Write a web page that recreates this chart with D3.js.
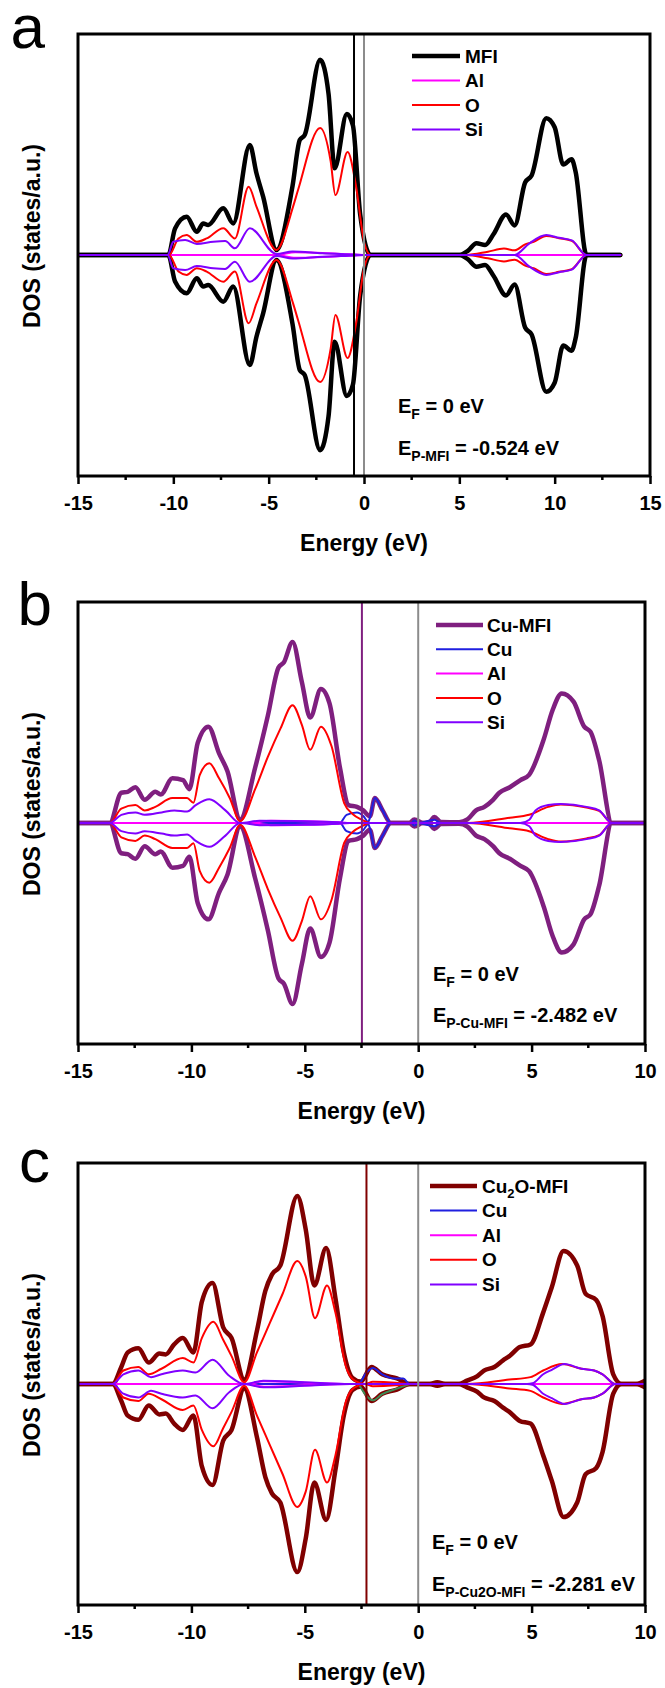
<!DOCTYPE html>
<html>
<head>
<meta charset="utf-8">
<script src="https://cdn.jsdelivr.net/npm/d3@7"></script>
<style>
  body { margin: 0; background: #fff; }
  text { font-family: "Liberation Sans", Arial, sans-serif; }
</style>
</head>
<body>
<div id="chart"></div>
<script>
// ---- data: [energy (eV), DOS (a.u., frame = 100)] ----
// spin-up half; the spin-down half is the same curve drawn below zero

// panel a : MFI
var mfiA = [[-15,0],[-10.26,0],[-9.91,12],[-9.3,17.3],[-8.77,10.5],[-8.43,14.3],[-8.17,13.6],[-7.38,21.1],[-6.86,14.3],
  [-5.99,49.8],[-5.64,37],[-5.29,26.4],[-4.59,2.3],[-3.75,31.2],[-3.37,52],[-3.11,54.3],[-2.3,88.3],[-1.86,73],
  [-1.54,39.2],[-0.9,63.8],[-0.58,58.6],[-0.2,18.3],[0.35,0],[5.01,0],[5.46,2],[5.9,5.3],[6.35,4.5],[6.79,9.4],
  [7.45,18.3],[7.9,13.4],[8.45,32.8],[8.79,36],[9.56,61.9],[10.0,57.8],[10.45,40.9],[10.89,43.3],[11.1,37.6],
  [11.67,0],[13.44,0]];
var alA = [[-15,0],[-4.6,0],[-3.6,1.3],[-2.5,1],[-1.2,0.5],[0,0],[13.44,0]];
var oA = [[-15,0],[-10.23,0],[-9.73,7.5],[-9.3,9],[-8.77,6],[-8.25,7.5],[-7.38,12.1],[-6.77,7.5],[-6.05,30.9],
  [-5.64,21.9],[-4.59,2.3],[-3.72,21.9],[-3.46,29.4],[-2.3,57.5],[-1.75,42.5],[-1.5,27.1],[-0.86,46.6],[-0.42,31.2],
  [0.02,5.3],[0.35,0],[5.35,0],[6.5,1.5],[7.34,2.9],[7.9,2.1],[8.45,4.8],[8.9,6],[9.56,8.6],[10.23,7.6],
  [10.9,6.4],[11.67,0],[13.44,0]];
var siA = [[-15,0],[-10.3,0],[-10.0,6],[-9.38,6.8],[-8.77,5],[-7.9,6],[-7.28,6.3],[-6.77,3],[-5.99,12.1],[-4.59,0.5],
  [-3.75,1.6],[-2.2,0.8],[-0.5,0.2],[0,0],[7.9,0],[8.68,5.3],[9.56,9],[10.23,7.8],[10.9,6.6],[11.67,0],[13.44,0]];

// panel b : Cu-MFI
var cuMfiB = [[-15,0],[-13.6,0],[-13.09,13.7],[-12.81,14.1],[-12.47,16.2],[-12.06,10.5],[-11.59,14.1],[-11.35,12.9],
  [-10.84,20.2],[-10.37,19.4],[-10.09,15.3],[-9.72,36.3],[-9.25,43.6],[-8.78,31.5],[-8.41,23.4],[-7.85,1.6],
  [-7.19,25],[-6.63,48.5],[-6.16,70.3],[-5.92,72.7],[-5.54,81.9],[-5.13,63.8],[-4.76,47.7],[-4.29,60.6],
  [-3.91,54.1],[-3.45,25],[-3.07,8.1],[-2.7,7.3],[-2.42,5.7],[-2.13,3],[-1.91,11.3],[-1.57,5.7],[-1.2,0],
  [-0.4,0],[-0.17,1.6],[0.2,0],[0.5,0.5],[0.71,2.7],[1.0,0.5],[1.8,0.3],[2.17,1.6],[2.55,5.7],[2.92,7.3],
  [3.3,10.5],[3.58,13.7],[4.04,16.2],[4.51,19.4],[4.89,21.8],[5.54,38],[5.92,50.9],[6.33,58.6],[6.85,54.9],
  [7.32,43.6],[7.6,41.2],[7.98,28.3],[8.54,0],[10,0]];
var cuB = [[-15,0],[-3.45,0],[-3.16,3.7],[-2.7,4.8],[-2.42,3.2],[-2.2,0.5],[-2.13,2.4],[-1.91,11.3],[-1.57,5.7],
  [-1.2,0],[-0.3,0],[-0.17,1.2],[0,0],[0.71,1.5],[1,0],[10,0]];
var alB = [[-15,0],[-7.5,0],[-6.5,1],[-5,0.8],[-3.5,0.3],[-3,0],[10,0]];
var oB = [[-15,0],[-13.6,0],[-13.09,6.5],[-12.47,8.1],[-12.06,5.7],[-11.59,7.3],[-10.84,11.3],[-10.19,11.3],
  [-9.91,9.2],[-9.63,21.8],[-9.21,27],[-8.78,20.2],[-8.31,11.3],[-7.85,0.8],[-7.19,15.3],[-6.63,29.9],
  [-6.07,42.8],[-5.54,53.3],[-5.13,44.4],[-4.76,33.1],[-4.29,43.6],[-3.82,34.7],[-3.26,8.9],[-2.88,4],
  [-2.51,1.6],[-2.13,0],[2.17,0],[4.04,2.4],[4.89,3.7],[5.73,7.3],[6.29,8.4],[7.42,7],[7.98,5.5],[8.54,0],[10,0]];
var siB = [[-15,0],[-13.6,0],[-13.09,3.7],[-12.47,4.8],[-12.06,3.7],[-11.31,4.8],[-10.75,5.7],[-10.19,5.2],
  [-9.81,8.1],[-9.21,10.8],[-8.5,5.7],[-7.85,0],[-7,1],[-5,0.8],[-3.5,0.3],[-3,0],[4.5,0],[4.9,1.5],[5.17,5.7],
  [5.73,8.1],[6.29,8.6],[7.42,7.3],[7.98,5.7],[8.54,0],[10,0]];

// panel c : Cu2O-MFI
var cu2oMfiC = [[-15,0],[-13.47,0],[-13.09,7.7],[-12.81,14.3],[-12.34,16.2],[-11.88,9.7],[-11.41,13.8],
  [-11.13,13.4],[-10.76,17.9],[-10.38,20.8],[-9.91,14.3],[-9.54,37.2],[-9.07,45.7],[-8.6,25.7],[-8.23,20.8],
  [-7.67,2],[-7.11,24.1],[-6.74,42.1],[-6.45,49.5],[-6.08,53.6],[-5.33,85.1],[-4.96,70],[-4.58,44.6],
  [-4.06,61.5],[-3.65,38.9],[-3.28,14.3],[-2.9,2.8],[-2.53,1.1],[-2.06,7.7],[-1.59,4.4],[-0.94,2.5],[-0.38,0],
  [0.5,0],[0.84,0.8],[1.2,0],[1.8,0],[2.15,1.5],[2.61,3.6],[2.9,6.1],[3.36,7.7],[3.74,10.7],[4.02,12.6],
  [4.48,16.7],[4.95,17.9],[5.51,32.3],[5.89,43.8],[6.41,60.2],[7.01,53.6],[7.38,40.8],[7.85,38],[8.13,30.7],
  [8.6,4.4],[8.97,0],[9.6,0],[10,1.5]];
var cuUpC = [[-15,0],[-2.62,0],[-2.34,4.4],[-2.0,7.2],[-1.59,4.4],[-1.03,2.5],[-0.66,2.5],[-0.38,0],[10,0]];
var cuDownC = [[-2.62,0],[-2.34,4.6],[-2.0,7.4],[-1.59,4.6],[-0.94,2.1],[-0.38,0]];
var alC = [[-15,0],[-7.6,0],[-6.8,1.2],[-5,0.6],[-3,0],[10,0]];
var oC = [[-15,0],[-13.47,0],[-13,6.1],[-12.34,7.7],[-11.88,4.4],[-11.32,6.9],[-10.38,11.8],[-9.91,9.7],
  [-9.54,20.8],[-9.03,28.2],[-8.6,20],[-8.23,12.6],[-7.67,0.8],[-7.11,14.3],[-6.55,27.4],[-5.99,40.5],
  [-5.33,55.6],[-4.96,48.7],[-4.55,29.8],[-4.02,44.6],[-3.65,32.3],[-3.18,7.7],[-2.81,1.6],[-2.34,0],[-2,1],
  [-1,0.6],[-0.38,0],[2.15,0],[4.02,2],[4.95,3.1],[5.51,6.1],[6.35,9],[7.2,6.9],[7.76,6.1],[8.13,4.4],[8.69,0],[10,0]];
var siC = [[-15,0],[-13.47,0],[-13,4.4],[-12.34,6.1],[-11.78,3.1],[-11.32,4.4],[-10.38,6.1],[-9.82,5.2],
  [-9.07,11],[-8.32,3.6],[-7.67,0],[-6.83,1.5],[-5,0.8],[-3,0],[4.8,0],[5.04,0.3],[5.51,4.4],[5.89,6.4],
  [6.45,9],[7.2,6.9],[7.76,6.1],[8.13,4.4],[8.69,0],[10,0]];

// reference energies and tick labels
var peakA = -0.524, peakB = -2.482, peakC = -2.281;
var ticksA = [-15, -10, -5, 0, 5, 10, 15];
var ticksBC = [-15, -10, -5, 0, 5, 10];

// ---- drawing ----
var svg = d3.select("#chart").append("svg")
    .attr("width", 665)
    .attr("height", 1688)
    .style("background", "#fff");

var panels = [
  { letter: "a", lx: 10.5, ly: 48, top: 34, bottom: 476, left: 78, right: 650, xDomain: [-15, 15], ticks: ticksA,
    peak: peakA, peakColor: "#000000", ePeakSub: "P-MFI",
    ann: { x: 398, y1: 413, y2: 455 },
    leg: { x1: 412, x2: 460, tx: 465, y0: 56, dy: 24.5 },
    series: [
      { name: "MFI", data: mfiA, color: "#000000", w: 4.5 },
      { name: "Al", data: alA, color: "#ff00ff", w: 2 },
      { name: "O", data: oA, color: "#ff0000", w: 2 },
      { name: "Si", data: siA, color: "#8000ff", w: 2 }
    ] },
  { letter: "b", lx: 17.5, ly: 625, top: 602, bottom: 1044, left: 78, right: 645, xDomain: [-15, 10], ticks: ticksBC,
    peak: peakB, peakColor: "#7f1f7f", ePeakSub: "P-Cu-MFI",
    ann: { x: 433, y1: 981, y2: 1022 },
    leg: { x1: 436, x2: 483, tx: 487, y0: 625, dy: 24.3 },
    series: [
      { name: "Cu-MFI", data: cuMfiB, color: "#7f1f7f", w: 4.5 },
      { name: "Cu", data: cuB, color: "#1f1fe0", w: 2 },
      { name: "Al", data: alB, color: "#ff00ff", w: 2 },
      { name: "O", data: oB, color: "#ff0000", w: 2 },
      { name: "Si", data: siB, color: "#8000ff", w: 2 }
    ] },
  { letter: "c", lx: 19, ly: 1182, top: 1163, bottom: 1605, left: 78, right: 645, xDomain: [-15, 10], ticks: ticksBC,
    peak: peakC, peakColor: "#800000", ePeakSub: "P-Cu2O-MFI",
    ann: { x: 432, y1: 1549, y2: 1591 },
    leg: { x1: 430, x2: 477, tx: 482, y0: 1186, dy: 24.6 },
    series: [
      { name: "Cu2O-MFI", data: cu2oMfiC, color: "#800000", w: 4.5 },
      { name: "Cu", data: cuUpC, color: "#1f1fe0", w: 2, upOnly: true },
      { name: null, data: cuDownC, color: "#3c8c55", w: 2, downOnly: true },
      { name: "Al", data: alC, color: "#ff00ff", w: 2 },
      { name: "O", data: oC, color: "#ff0000", w: 2 },
      { name: "Si", data: siC, color: "#8000ff", w: 2 }
    ] }
];

panels.forEach(drawPanel);

function drawPanel(p) {
  var x = d3.scaleLinear().domain(p.xDomain).range([p.left, p.right]);
  var y = d3.scaleLinear().domain([-100, 100]).range([p.bottom, p.top]);

  var g = svg.append("g").attr("class", "panel-" + p.letter);

  g.append("clipPath").attr("id", "clip-" + p.letter)
    .append("rect")
    .attr("x", p.left).attr("y", p.top)
    .attr("width", p.right - p.left).attr("height", p.bottom - p.top);

  var plot = g.append("g").attr("clip-path", "url(#clip-" + p.letter + ")");

  var line = d3.line()
    .x(function (d) { return x(d[0]); })
    .y(function (d) { return y(d[1]); })
    .curve(d3.curveMonotoneX);

  p.series.forEach(function (s) {
    if (!s.downOnly) {
      plot.append("path").datum(s.data)
        .attr("d", line).attr("fill", "none")
        .attr("stroke", s.color).attr("stroke-width", s.w)
        .attr("stroke-linejoin", "round").attr("stroke-linecap", "round");
    }
    if (!s.upOnly) {
      // spin down drawn below zero
      plot.append("path").datum(s.data.map(function (d) { return [d[0], -d[1]]; }))
        .attr("d", line).attr("fill", "none")
        .attr("stroke", s.color).attr("stroke-width", s.w)
        .attr("stroke-linejoin", "round").attr("stroke-linecap", "round");
    }
  });

  // Fermi level and p-band centre
  plot.append("line")
    .attr("x1", x(0)).attr("x2", x(0)).attr("y1", p.top).attr("y2", p.bottom)
    .attr("stroke", "#8c8c8c").attr("stroke-width", 2);
  plot.append("line")
    .attr("x1", x(p.peak)).attr("x2", x(p.peak)).attr("y1", p.top).attr("y2", p.bottom)
    .attr("stroke", p.peakColor).attr("stroke-width", 2);

  // bottom axis
  var axis = d3.axisBottom(x)
    .tickValues(p.ticks)
    .tickSize(8)
    .tickPadding(12)
    .tickFormat(function (d) { return String(d); });
  var ax = g.append("g").attr("transform", "translate(0," + p.bottom + ")").call(axis);
  ax.select(".domain").remove();
  ax.selectAll(".tick line").attr("stroke", "#000").attr("stroke-width", 2.5);
  ax.selectAll(".tick text")
    .attr("fill", "#000")
    .style("font-family", '"Liberation Sans", Arial, sans-serif')
    .style("font-size", "20px")
    .style("font-weight", "bold");

  // minor ticks
  var minor = d3.range(p.xDomain[0] + 2.5, p.xDomain[1], 5);
  g.selectAll(".minor-" + p.letter).data(minor).enter().append("line")
    .attr("x1", function (d) { return x(d); }).attr("x2", function (d) { return x(d); })
    .attr("y1", p.bottom).attr("y2", p.bottom + 4)
    .attr("stroke", "#000").attr("stroke-width", 2.5);

  // frame
  g.append("rect")
    .attr("x", p.left).attr("y", p.top)
    .attr("width", p.right - p.left).attr("height", p.bottom - p.top)
    .attr("fill", "none").attr("stroke", "#000").attr("stroke-width", 3);

  // axis titles
  g.append("text")
    .attr("x", (p.left + p.right) / 2).attr("y", p.bottom + 75)
    .attr("text-anchor", "middle")
    .style("font-size", "23px").style("font-weight", "bold")
    .text("Energy (eV)");
  g.append("text")
    .attr("transform", "translate(40," + ((p.top + p.bottom) / 2 - 19) + ") rotate(-90)")
    .attr("text-anchor", "middle")
    .style("font-size", "23px").style("font-weight", "bold")
    .text("DOS (states/a.u.)");

  // panel letter
  g.append("text")
    .attr("x", p.lx).attr("y", p.ly)
    .style("font-size", "62px")
    .text(p.letter);

  // legend
  var items = p.series.filter(function (s) { return s.name; });
  items.forEach(function (s, i) {
    var ly = p.leg.y0 + i * p.leg.dy;
    g.append("line")
      .attr("x1", p.leg.x1).attr("x2", p.leg.x2).attr("y1", ly).attr("y2", ly)
      .attr("stroke", s.color).attr("stroke-width", s.w);
    var t = g.append("text")
      .attr("x", p.leg.tx).attr("y", ly).attr("dy", "0.35em")
      .style("font-size", "19px").style("font-weight", "bold");
    if (s.name === "Cu2O-MFI") {
      t.append("tspan").text("Cu");
      t.append("tspan").attr("dy", 5).style("font-size", "13px").text("2");
      t.append("tspan").attr("dy", -5).text("O-MFI");
    } else {
      t.text(s.name);
    }
  });

  // annotations
  var ef = g.append("text").attr("x", p.ann.x).attr("y", p.ann.y1)
    .style("font-size", "20px").style("font-weight", "bold");
  ef.append("tspan").text("E");
  ef.append("tspan").attr("dy", 6).style("font-size", "14px").text("F");
  ef.append("tspan").attr("dy", -6).text(" = 0 eV");

  var ep = g.append("text").attr("x", p.ann.x).attr("y", p.ann.y2)
    .style("font-size", "20px").style("font-weight", "bold");
  ep.append("tspan").text("E");
  ep.append("tspan").attr("dy", 6).style("font-size", "14px").text(p.ePeakSub);
  ep.append("tspan").attr("dy", -6).text(" = " + p.peak.toFixed(3) + " eV");
}
</script>
</body>
</html>
